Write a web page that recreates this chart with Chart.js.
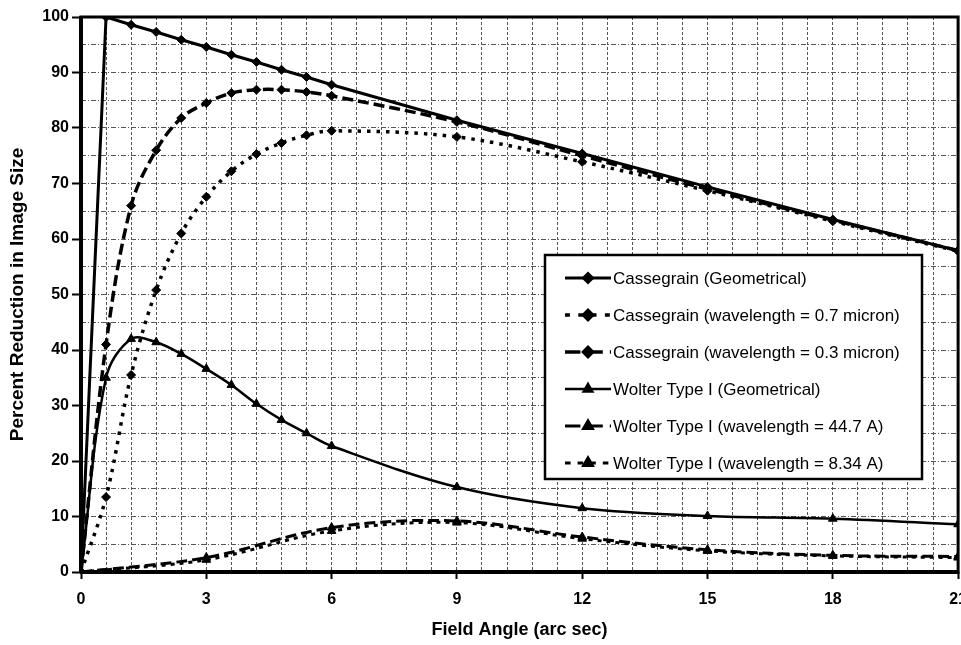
<!DOCTYPE html>
<html><head><meta charset="utf-8">
<script src="https://cdn.jsdelivr.net/npm/chart.js@4.4.1/dist/chart.umd.min.js"></script>
<style>
html,body{margin:0;padding:0;background:#fff;overflow:hidden;width:961px;height:645px}
canvas{display:block}
</style></head>
<body><canvas id="c" width="978" height="645"></canvas>
<script>
// ---- data ----
const fieldAngle = [0, 0.6, 1.2, 1.8, 2.4, 3, 3.6, 4.2, 4.8, 5.4, 6, 9, 12, 15, 18, 21];
const cassGeom   = [0, 100, 98.6, 97.3, 95.9, 94.6, 93.2, 91.9, 90.5, 89.2, 87.8, 81.4, 75.4, 69.4, 63.5, 57.9];
const cass07     = [0, 13.5, 35.5, 50.8, 61, 67.6, 72.2, 75.3, 77.3, 78.7, 79.5, 78.4, 73.9, 68.7, 63.2, 57.8];
const cass03     = [0, 41, 66, 76, 81.8, 84.5, 86.3, 86.9, 86.9, 86.5, 85.8, 81.1, 75, 69, 63.4, 57.9];
const wolterGeom = [0, 35, 42, 41.4, 39.3, 36.6, 33.7, 30.3, 27.4, 25, 22.7, 15.3, 11.5, 10.1, 9.6, 8.6];
const wolterAngle = [0, 3, 6, 9, 12, 15, 18, 21];
const wolter447  = [0, 2.6, 8.0, 9.2, 6.3, 4.0, 3.0, 2.8];
const wolter834  = [0, 2.2, 7.4, 8.9, 6.0, 3.8, 2.9, 2.6];
const seriesNames = [
  'Cassegrain (Geometrical)',
  'Cassegrain (wavelength = 0.7 micron)',
  'Cassegrain (wavelength = 0.3 micron)',
  'Wolter Type I (Geometrical)',
  'Wolter Type I (wavelength = 44.7 A)',
  'Wolter Type I (wavelength = 8.34 A)'
];
const xTitle = 'Field Angle (arc sec)';
const yTitle = 'Percent Reduction in Image Size';

const FONT = "'Liberation Sans', Arial, Helvetica, sans-serif";
const ink = '#000';
const pts = (xs, ys) => xs.map((x, i) => ({x, y: ys[i]}));
const mk = (label, xs, ys, o) => Object.assign({
  label, data: pts(xs, ys), borderColor: ink, backgroundColor: ink,
  pointBackgroundColor: ink, pointBorderColor: ink, pointBorderWidth: 1,
  fill: false, borderCapStyle: 'butt'
}, o);

const datasets = [
  mk(seriesNames[0], fieldAngle, cassGeom,   {borderWidth: 3,   pointStyle: 'rectRot',  pointRadius: 4.5, tension: 0}),
  mk(seriesNames[1], fieldAngle, cass07,     {borderWidth: 3.5, borderDash: [3.5, 6],  pointStyle: 'rectRot',  pointRadius: 4.5, tension: 0.35}),
  mk(seriesNames[2], fieldAngle, cass03,     {borderWidth: 3.5, borderDash: [11, 5],   pointStyle: 'rectRot',  pointRadius: 4.5, tension: 0.35}),
  mk(seriesNames[3], fieldAngle, wolterGeom, {borderWidth: 2.5, pointStyle: 'triangle', pointRadius: 5, tension: 0.35}),
  mk(seriesNames[4], wolterAngle, wolter447, {borderWidth: 3,   borderDash: [11, 5],   pointStyle: 'triangle', pointRadius: 5, tension: 0.35}),
  mk(seriesNames[5], wolterAngle, wolter834, {borderWidth: 3,   borderDash: [4, 5],    pointStyle: 'triangle', pointRadius: 5, tension: 0.35})
];

const isMult = (v, m) => Math.abs(v / m - Math.round(v / m)) < 1e-6;

const framePlugin = {
  id: 'frameAndLegend',
  afterDatasetsDraw(chart) {
    const {ctx, chartArea: a} = chart;
    ctx.save();
    ctx.strokeStyle = '#000';
    ctx.setLineDash([]);
    ctx.lineWidth = 3;
    ctx.strokeRect(a.left, a.top, a.right - a.left, a.bottom - a.top);
    ctx.lineWidth = 4;
    ctx.beginPath();
    ctx.moveTo(a.left, a.top - 1); ctx.lineTo(a.left, a.bottom + 1);
    ctx.moveTo(a.left - 1, a.bottom); ctx.lineTo(a.right + 1, a.bottom);
    ctx.stroke();

    // legend box
    const L = 545, T = 255, R = 922, B = 479;
    ctx.fillStyle = '#fff';
    ctx.fillRect(L, T, R - L, B - T);
    ctx.lineWidth = 2.5;
    ctx.strokeRect(L, T, R - L, B - T);
    ctx.font = '17px ' + FONT;
    ctx.textBaseline = 'middle';
    ctx.textAlign = 'left';
    chart.data.datasets.forEach((d, i) => {
      const y = 278 + i * 37;
      ctx.save();
      ctx.strokeStyle = '#000';
      ctx.lineWidth = d.borderWidth;
      ctx.lineCap = 'butt';
      ctx.setLineDash(d.borderDash ? d.borderDash.map(v => v * 1.4) : []);
      ctx.beginPath();
      ctx.moveTo(565, y); ctx.lineTo(611, y);
      ctx.stroke();
      ctx.setLineDash([]);
      ctx.fillStyle = '#000';
      Chart.helpers.drawPoint(ctx, {pointStyle: d.pointStyle, radius: d.pointRadius, rotation: 0, borderWidth: 1}, 588, y);
      ctx.restore();
      ctx.fillStyle = '#000';
      ctx.fillText(d.label, 613, y + 1);
    });
    ctx.restore();
  }
};

new Chart(document.getElementById('c'), {
  type: 'line',
  data: {datasets},
  options: {
    responsive: false,
    animation: false,
    devicePixelRatio: 1,
    layout: {padding: {top: 17, left: 0, right: 0, bottom: 0}},
    plugins: {legend: {display: false}, tooltip: {enabled: false}},
    scales: {
      x: {
        type: 'linear', min: 0, max: 21,
        afterFit(s) { s.height = 73; },
        ticks: {
          stepSize: 0.6, autoSkip: false, maxRotation: 0, padding: 11,
          color: '#000', font: {family: FONT, size: 16, weight: 'bold'},
          callback: v => isMult(v, 3) ? String(Math.round(v)) : ''
        },
        grid: {
          color: '#555', lineWidth: 1,
          tickLength: 7, tickWidth: 2,
          tickColor: c => (c.tick && isMult(c.tick.value, 3)) ? '#000' : 'rgba(0,0,0,0)'
        },
        border: {display: false, dash: [3, 2]},
        title: {display: true, text: xTitle, color: '#000', font: {family: FONT, size: 18, weight: 'bold'}, padding: {top: 0, bottom: 4}}
      },
      y: {
        type: 'linear', min: 0, max: 100,
        afterFit(s) { s.width = 81; },
        ticks: {
          stepSize: 5, autoSkip: false, padding: 3,
          color: '#000', font: {family: FONT, size: 16, weight: 'bold'},
          callback: v => isMult(v, 10) ? String(Math.round(v)) : ''
        },
        grid: {
          color: '#555', lineWidth: 1,
          tickLength: 9, tickWidth: 2,
          tickColor: c => (c.tick && isMult(c.tick.value, 10)) ? '#000' : 'rgba(0,0,0,0)'
        },
        border: {display: false, dash: [5, 2, 1, 2]},
        title: {display: true, text: yTitle, color: '#000', font: {family: FONT, size: 19, weight: 'bold'}, padding: {top: 6, bottom: 0}}
      }
    }
  },
  plugins: [framePlugin]
});
</script>
</body></html>
